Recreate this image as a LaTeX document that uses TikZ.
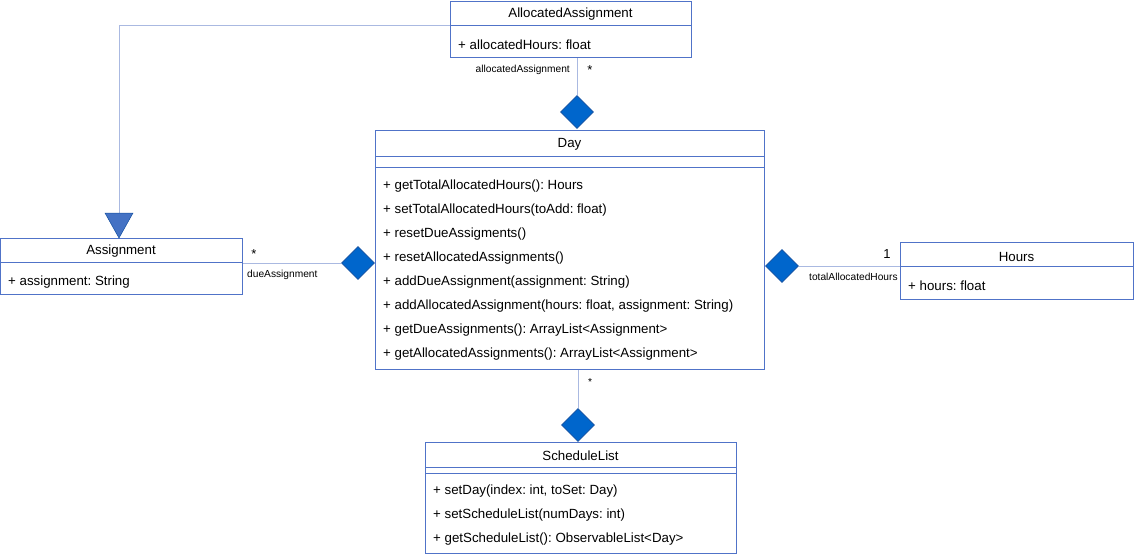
\documentclass[tikz,border=0pt]{standalone}
\usepackage{fontspec}
\setmainfont{Liberation Sans}
\usetikzlibrary{shapes.geometric,calc}
\definecolor{boxc}{RGB}{80,115,200}
\definecolor{linec}{RGB}{170,185,225}
\definecolor{dfill}{RGB}{0,102,204}
\definecolor{dline}{RGB}{20,80,160}
\definecolor{tfill}{RGB}{68,114,196}
\frenchspacing
\begin{document}
\begin{tikzpicture}[x=1pt,y=-1pt,
 box/.style={draw=boxc,line width=1pt,fill=white,inner sep=0,anchor=north west},
 divl/.style={draw=boxc,line width=1pt},
 conn/.style={draw=linec,line width=1pt},
 dia/.style={diamond,draw=dline,fill=dfill,inner sep=0,minimum width=33pt,minimum height=33pt,line width=0.6pt},
 txt/.style={font=\fontsize{13.3}{15}\selectfont,anchor=west,inner sep=0,yshift=-1.5pt},
 ttl/.style={font=\fontsize{13.3}{15}\selectfont,inner sep=0,yshift=-1.5pt},
 lbl/.style={font=\fontsize{10.2}{12}\selectfont,inner sep=0,yshift=-1pt},
 mult/.style={font=\fontsize{13}{14}\selectfont,inner sep=0}]
\useasboundingbox (0,0) rectangle (1134,554);
% boxes
\node[box,minimum width=241pt,minimum height=56pt] (aa) at (450,1) {};
\draw[divl] (450,25) -- (691,25);
\node[ttl] (aat) at (570.5,13) {AllocatedAssignment};
\node[txt] (aa1) at (458,43) {+ allocatedHours: float};

\node[box,minimum width=242pt,minimum height=56pt] (asg) at (0,238) {};
\draw[divl] (0,262) -- (242,262);
\node[ttl] (asgt) at (121,250) {Assignment};
\node[txt] (asg1) at (8,281) {+ assignment: String};

\node[box,minimum width=389pt,minimum height=239pt] (day) at (375,130) {};
\draw[divl] (375,156) -- (764,156);
\draw[divl] (375,167) -- (764,167);
\node[ttl] (dayt) at (569.5,143) {Day};
\node[txt] (d1) at (383,185) {+ getTotalAllocatedHours(): Hours};
\node[txt] (d2) at (383,209) {+ setTotalAllocatedHours(toAdd: float)};
\node[txt] (d3) at (383,233) {+ resetDueAssigments()};
\node[txt] (d4) at (383,257) {+ resetAllocatedAssignments()};
\node[txt] (d5) at (383,281) {+ addDueAssignment(assignment: String)};
\node[txt] (d6) at (383,305) {+ addAllocatedAssignment(hours: float, assignment: String)};
\node[txt] (d7) at (383,329) {+ getDueAssignments(): ArrayList<Assignment>};
\node[txt] (d8) at (383,353) {+ getAllocatedAssignments(): ArrayList<Assignment>};

\node[box,minimum width=233pt,minimum height=57pt] (hrs) at (900,242) {};
\draw[divl] (900,266) -- (1133,266);
\node[ttl] (hrst) at (1016.5,255) {Hours};
\node[txt] (hrs1) at (908,284) {+ hours: float};

\node[box,minimum width=311pt,minimum height=111pt] (sl) at (425,442) {};
\draw[divl] (425,467) -- (736,467);
\draw[divl] (425,473) -- (736,473);
\node[ttl] (slt) at (580.5,454) {ScheduleList};
\node[txt] (s1) at (433,490) {+ setDay(index: int, toSet: Day)};
\node[txt] (s2) at (433,514) {+ setScheduleList(numDays: int)};
\node[txt] (s3) at (433,538) {+ getScheduleList(): ObservableList<Day>};

% diamonds
\node[dia] (dtop) at (577,112) {};
\node[dia] (dleft) at (358,263) {};
\node[dia] (dright) at (782,266) {};
\node[dia] (dbot) at (578,425) {};

% connectors
\draw[conn] (dtop.north |- aa.south) -- (dtop.north);
\draw[conn] (asg.east |- dleft.west) -- (dleft.west);
\draw[conn] (dright.east) -- (hrs.west |- dright.east);
\draw[conn] (dbot.north |- day.south) -- (dbot.north);
\coordinate (gsrc) at (450,25);
\coordinate (tritop) at (119,213);
\draw[conn] (gsrc) -| (tritop);
\fill[tfill] (105,213) -- (133,213) -- (119,238) -- cycle;
\draw[dline,line width=0.5pt] (105,213) -- (133,213) -- (119,238) -- cycle;

% labels
\node[lbl,anchor=east] (l1) at (570,69) {allocatedAssignment};
\node[mult] (m1) at (590,70) {*};
\node[mult] (m2) at (254,254) {*};
\node[lbl,anchor=west] (l2) at (247,274) {dueAssignment};
\node[mult] (m3) at (887,254) {1};
\node[lbl,anchor=west] (l3) at (809,276) {totalAllocatedHours};
\node[lbl] (m4) at (590,381) {*};
\end{tikzpicture}
\end{document}
